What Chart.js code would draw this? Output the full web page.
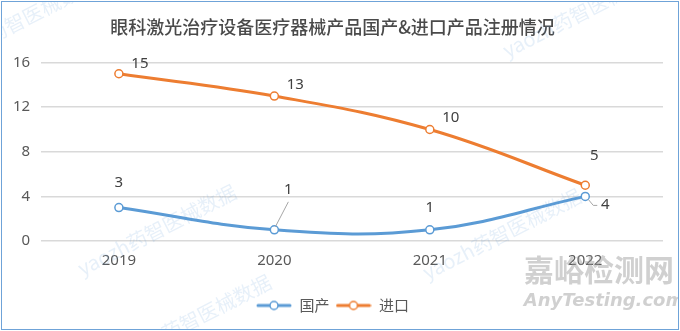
<!DOCTYPE html>
<html>
<head>
<meta charset="utf-8">
<script src="https://cdn.jsdelivr.net/npm/chart.js@4"></script>
<style>
  body { margin: 0; background: #fff; }
  #wrap { position: absolute; left: 1px; top: 1px; width: 676px; height: 327px; border: 1px solid #6FA3D8; }
</style>
</head>
<body>
<div id="wrap"><canvas id="myChart" width="676" height="327"></canvas></div>
<script>
/*----------------------------data------------------------------------*/
var years = ['2019', '2020', '2021', '2022'];
var domestic = [3, 1, 1, 4];     // 国产
var imported = [15, 13, 10, 5];  // 进口

var blue = '#5B9BD5';
var orange = '#ED7D31';

// label offsets (dx, dy) relative to each point, plus optional leader line
var labelPos = [
  [[0, -25], [14, -40, true], [0, -22], [20, 8, true]],
  [[21, -10], [21, -11], [21, -12], [9, -30]]
];

// legend marker: short line with hollow circle
function legendIcon(color) {
  var c = document.createElement('canvas');
  c.width = 36; c.height = 12;
  var g = c.getContext('2d');
  g.strokeStyle = color; g.lineWidth = 3; g.lineCap = 'round';
  g.beginPath(); g.moveTo(2, 6); g.lineTo(34, 6); g.stroke();
  g.fillStyle = '#fff'; g.lineWidth = 1.5;
  g.beginPath(); g.arc(18, 6, 4, 0, Math.PI * 2); g.fill(); g.stroke();
  return c;
}

var valueLabels = {
  id: 'valueLabels',
  afterDatasetsDraw: function(chart) {
    var ctx = chart.ctx;
    ctx.save();
    ctx.font = '15px "Noto Sans", sans-serif';
    ctx.fillStyle = '#404040';
    ctx.textAlign = 'center';
    ctx.textBaseline = 'middle';
    chart.data.datasets.forEach(function(ds, i) {
      chart.getDatasetMeta(i).data.forEach(function(pt, j) {
        var o = labelPos[i][j];
        var x = pt.x + o[0], y = pt.y + o[1];
        if (o[2]) {
          ctx.strokeStyle = '#A6A6A6';
          ctx.lineWidth = 1;
          ctx.beginPath();
          if (o[1] < 0) {
            ctx.moveTo(pt.x + 1, pt.y - 3);
            ctx.lineTo(x, y + 12);
          } else {
            ctx.moveTo(pt.x + 3, pt.y + 3);
            ctx.lineTo(pt.x + 8, pt.y + 9);
            ctx.lineTo(x - 8, pt.y + 9);
          }
          ctx.stroke();
        }
        ctx.fillText(ds.data[j], x, y);
      });
    });
    ctx.restore();
  }
};

// faint site watermarks
var watermark = {
  id: 'watermark',
  afterDraw: function(chart) {
    var ctx = chart.ctx;
    ctx.save();
    ctx.font = 'bold 30px "Noto Sans CJK SC", sans-serif';
    ctx.fillStyle = 'rgba(150,150,150,0.45)';
    ctx.textAlign = 'center';
    ctx.fillText('嘉峪检测网', 597, 268);
    ctx.font = 'italic bold 18px "DejaVu Sans", sans-serif';
    ctx.fillText('AnyTesting.com', 602, 299);
    ctx.fillStyle = 'rgba(91,155,213,0.15)';
    ctx.font = '20px "Noto Sans CJK SC", sans-serif';
    [[155, 228], [500, 232], [190, 318], [580, 10], [15, 20]].forEach(function(p) {
      ctx.save();
      ctx.translate(p[0], p[1]);
      ctx.rotate(-0.47);
      ctx.fillText('yaozh药智医械数据', 0, 0);
      ctx.restore();
    });
    ctx.restore();
  }
};

new Chart('myChart', {
  type: 'line',
  data: {
    labels: years,
    datasets: [{
      label: '国产',
      data: domestic,
      borderColor: blue,
      backgroundColor: '#fff',
      borderWidth: 3,
      pointRadius: 4,
      pointBorderWidth: 1.5,
      tension: 0.4,
      pointStyle: 'circle'
    }, {
      label: '进口',
      data: imported,
      borderColor: orange,
      backgroundColor: '#fff',
      borderWidth: 3,
      pointRadius: 4,
      pointBorderWidth: 1.5,
      tension: 0.4,
      pointStyle: 'circle'
    }]
  },
  options: {
    responsive: false,
    animation: false,
    layout: { padding: { left: 0, right: 15, top: 0, bottom: 6 } },
    plugins: {
      title: {
        display: true,
        text: '眼科激光治疗设备医疗器械产品国产&进口产品注册情况',
        color: '#4A4A4A',
        font: { size: 18, family: '"Noto Sans CJK SC", sans-serif', weight: '500' },
        padding: { top: 14, bottom: 25 }
      },
      legend: {
        position: 'bottom',
        labels: {
          usePointStyle: true,
          pointStyleWidth: 36,
          color: '#595959',
          font: { size: 15, family: '"Noto Sans CJK SC", sans-serif' },
          padding: 6,
          generateLabels: function(chart) {
            return chart.data.datasets.map(function(ds, i) {
              return { text: ds.label, pointStyle: legendIcon(ds.borderColor), datasetIndex: i, lineWidth: 0, fontColor: '#595959' };
            });
          }
        }
      },
      tooltip: { enabled: false }
    },
    scales: {
      x: {
        offset: true,
        grid: { display: false },
        border: { display: false },
        ticks: { color: '#595959', font: { size: 15, family: '"Noto Sans", sans-serif' }, padding: 3 },
        afterFit: function(scale) { scale.height += 19; }
      },
      y: {
        min: 0,
        max: 16,
        ticks: { stepSize: 4, color: '#595959', font: { size: 15, family: '"Noto Sans", sans-serif' }, padding: 11 },
        grid: { color: '#D9D9D9', lineWidth: 1.5, drawTicks: false },
        border: { display: false }
      }
    }
  },
  plugins: [valueLabels, watermark]
});
</script>
</body>
</html>
